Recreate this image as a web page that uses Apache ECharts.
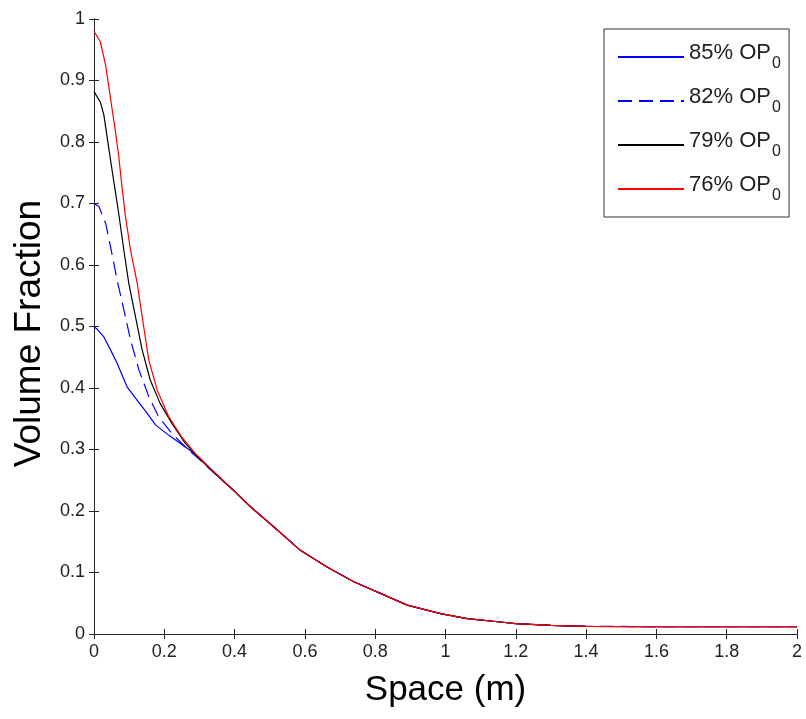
<!DOCTYPE html>
<html>
<head>
<meta charset="utf-8">
<script src="https://cdn.jsdelivr.net/npm/echarts@6/dist/echarts.min.js"></script>
<style>html,body{margin:0;padding:0;background:#fff}#c{width:806px;height:719px}</style>
</head>
<body>
<div id="c"></div>
<script>
// ---- data ----
var seriesNames = ['85% OP', '82% OP', '79% OP', '76% OP'];
var xTicks = [0, 0.2, 0.4, 0.6, 0.8, 1, 1.2, 1.4, 1.6, 1.8, 2];
var yTicks = [0, 0.1, 0.2, 0.3, 0.4, 0.5, 0.6, 0.7, 0.8, 0.9, 1];

var x85 = [0, 0.01, 0.028, 0.047, 0.066, 0.094, 0.123, 0.151, 0.175, 0.213, 0.26, 0.298, 0.355];
var y85 = [0.50, 0.495, 0.483, 0.462, 0.44, 0.402, 0.38, 0.359, 0.34, 0.323, 0.304, 0.288, 0.255];

var x82 = [0, 0.014, 0.033, 0.047, 0.066, 0.085, 0.104, 0.128, 0.156, 0.184, 0.222, 0.26, 0.30, 0.355];
var y82 = [0.70, 0.695, 0.668, 0.63, 0.575, 0.527, 0.478, 0.429, 0.386, 0.353, 0.326, 0.304, 0.284, 0.255];

var x79 = [0, 0.004, 0.018, 0.028, 0.042, 0.052, 0.061, 0.07, 0.085, 0.099, 0.118, 0.137, 0.16, 0.188, 0.222, 0.26, 0.30, 0.355];
var y79 = [0.882, 0.881, 0.865, 0.844, 0.79, 0.752, 0.719, 0.685, 0.624, 0.570, 0.516, 0.462, 0.413, 0.375, 0.342, 0.31, 0.285, 0.255];

var x76 = [0, 0.004, 0.018, 0.033, 0.047, 0.061, 0.07, 0.08, 0.089, 0.104, 0.123, 0.137, 0.156, 0.18, 0.213, 0.25, 0.289, 0.33];
var y76 = [0.98, 0.979, 0.963, 0.925, 0.871, 0.817, 0.779, 0.725, 0.681, 0.624, 0.57, 0.516, 0.445, 0.396, 0.353, 0.32, 0.293, 0.27];

// shared tail (all four curves coincide here)
var xTail = [0.40, 0.445, 0.512, 0.587, 0.663, 0.739, 0.815, 0.891, 0.986, 1.062, 1.156, 1.2, 1.3, 1.4, 1.6, 1.8, 2.0];
var yTail = [0.232, 0.207, 0.174, 0.136, 0.109, 0.085, 0.066, 0.047, 0.033, 0.025, 0.0195, 0.017, 0.014, 0.0125, 0.012, 0.012, 0.012];

function pairs(xs, ys) {
  var out = [];
  for (var i = 0; i < xs.length; i++) out.push([xs[i], ys[i]]);
  for (var j = 0; j < xTail.length; j++) out.push([xTail[j], yTail[j]]);
  return out;
}

var FONT = "'Liberation Sans', Arial, sans-serif";
var AX = '#262626';

var chart = echarts.init(document.getElementById('c'), null, {renderer: 'canvas'});

function axisCommon(extra) {
  var base = {
    type: 'value',
    axisLine: {show: true, lineStyle: {color: AX, width: 1}},
    axisTick: {show: true, inside: true, length: 5, lineStyle: {color: AX, width: 1}},
    splitLine: {show: false},
    axisLabel: {show: false}
  };
  for (var k in extra) base[k] = extra[k];
  return base;
}

var option = {
  animation: false,
  backgroundColor: '#ffffff',
  grid: {left: 94, right: 9, top: 19, bottom: 85, containLabel: false},
  xAxis: [
    axisCommon({
      position: 'bottom', min: 0, max: 2, interval: 0.2,
      axisLabel: {show: true, margin: 9, color: '#222', fontSize: 18, fontFamily: FONT,
        formatter: function (v) { return String(+v.toFixed(1)); }},
      name: 'Space (m)', nameLocation: 'middle', nameGap: 39,
      nameTextStyle: {fontSize: 35, color: '#000', fontFamily: FONT}
    }),
    axisCommon({position: 'top', min: 0, max: 2, interval: 0.2})
  ],
  yAxis: [
    axisCommon({
      position: 'left', min: 0, max: 1, interval: 0.1,
      axisLabel: {show: true, margin: 9, color: '#222', fontSize: 18, fontFamily: FONT,
        formatter: function (v) { return String(+v.toFixed(1)); }},
      name: 'Volume Fraction', nameLocation: 'middle', nameGap: 46,
      nameTextStyle: {fontSize: 37, color: '#000', fontFamily: FONT, padding: [0, 14, 0, 0]}
    }),
    axisCommon({position: 'right', min: 0, max: 1, interval: 0.1})
  ],
  legend: {
    orient: 'vertical',
    left: 604, top: 29,
    padding: [13, 8, 13, 13],
    itemGap: 14,
    itemWidth: 66, itemHeight: 14,
    backgroundColor: '#ffffff',
    borderColor: '#333',
    borderWidth: 1,
    borderRadius: 0,
    itemStyle: {opacity: 0, borderWidth: 0},
    data: seriesNames,
    formatter: function (name) { return '{m|' + name + '}{s|0}{p| }'; },
    textStyle: {
      fontFamily: FONT, color: '#222',
      rich: {
        m: {fontSize: 22, lineHeight: 22, verticalAlign: 'top', fontFamily: FONT, color: '#222'},
        s: {fontSize: 16, lineHeight: 12, verticalAlign: 'bottom', fontFamily: FONT, color: '#222', padding: [0, 0, 0, 1]},
        p: {fontSize: 1, lineHeight: 30, verticalAlign: 'middle', fontFamily: FONT}
      }
    }
  },
  series: [
    {name: seriesNames[0], type: 'line', data: pairs(x85, y85), symbol: 'none', showSymbol: false,
      lineStyle: {color: '#0000ff', width: 1.2}, itemStyle: {color: '#0000ff'}},
    {name: seriesNames[1], type: 'line', data: pairs(x82, y82), symbol: 'none', showSymbol: false,
      lineStyle: {color: '#0000ff', width: 1.2, type: [14, 7]}, itemStyle: {color: '#0000ff'}},
    {name: seriesNames[2], type: 'line', data: pairs(x79, y79), symbol: 'none', showSymbol: false,
      lineStyle: {color: '#000000', width: 1.2}, itemStyle: {color: '#000000'}},
    {name: seriesNames[3], type: 'line', data: pairs(x76, y76), symbol: 'none', showSymbol: false,
      lineStyle: {color: '#ff0000', width: 1.2}, itemStyle: {color: '#ff0000'}}
  ]
};
chart.setOption(option);
</script>
</body>
</html>
